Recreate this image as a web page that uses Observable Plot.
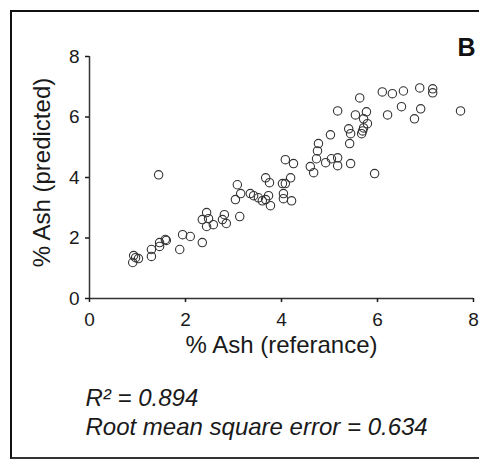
<!DOCTYPE html>
<html>
<head>
<meta charset="utf-8">
<script src="https://cdn.jsdelivr.net/npm/d3@7"></script>
<script src="https://cdn.jsdelivr.net/npm/@observablehq/plot@0.6"></script>
<style>
  html, body { margin: 0; padding: 0; background: #fff; overflow: hidden; }
  #wrap { position: relative; width: 479px; height: 461px; }
  #box {
    position: absolute; left: 10px; top: 10px; width: 520px; height: 449px;
    box-sizing: border-box; border: 2.5px solid #111; border-right: none;
    border-bottom-color: #333; pointer-events: none;
  }
</style>
</head>
<body>
<div id="wrap"><div id="box"></div></div>
<script>
// % ash: reference (lab) values and model predictions
const reference = [
  1.44, 0.92, 0.96, 1.02, 0.90, 1.29, 1.29, 1.46, 1.46, 1.58,
  1.60, 1.88, 1.94, 2.10, 2.35, 2.35, 2.44, 2.48, 2.44, 2.58,
  2.81, 2.77, 2.85, 3.13, 3.08, 3.15, 3.04, 3.35, 3.42, 3.52,
  3.60, 3.67, 3.73, 3.77, 3.67, 3.75, 4.02, 4.08, 4.19, 4.04,
  4.04, 4.21, 4.67, 4.60, 4.73, 4.75, 4.77, 5.02, 5.17, 4.92,
  5.04, 5.17, 5.17, 4.08, 4.25, 5.94, 5.63, 6.10, 6.31, 6.54,
  6.88, 7.15, 7.15, 7.73, 6.50, 6.90, 6.77, 6.21, 5.54, 5.77,
  5.71, 5.79, 5.71, 5.69, 5.67, 5.40, 5.44, 5.42, 5.44
];
const predicted = [
  4.09, 1.42, 1.35, 1.32, 1.19, 1.62, 1.39, 1.85, 1.72, 1.95,
  1.92, 1.62, 2.11, 2.05, 1.85, 2.61, 2.84, 2.64, 2.38, 2.44,
  2.77, 2.61, 2.48, 2.71, 3.76, 3.47, 3.27, 3.47, 3.40, 3.33,
  3.23, 3.27, 3.40, 3.07, 3.99, 3.83, 3.80, 3.80, 3.99, 3.47,
  3.30, 3.23, 4.16, 4.36, 4.62, 4.88, 5.12, 5.41, 6.20, 4.49,
  4.62, 4.65, 4.39, 4.59, 4.46, 4.13, 6.63, 6.83, 6.77, 6.86,
  6.96, 6.93, 6.80, 6.20, 6.34, 6.27, 5.94, 6.07, 6.07, 6.17,
  5.94, 5.78, 5.64, 5.54, 5.45, 5.61, 5.45, 5.12, 4.46
];
const ticks = [0, 2, 4, 6, 8];
const xTitle = "% Ash (referance)";
const yTitle = "% Ash (predicted)";
const panel = "B";
const rSquared = "R\u00b2 = 0.894";
const rmse = "Root mean square error = 0.634";

const points = reference.map((x, i) => ({x, y: predicted[i]}));
const ink = "#333";
const txt = {fill: "#1a1a1a", lineAnchor: "middle"};

const chart = Plot.plot({
  width: 479,
  height: 461,
  marginLeft: 89,
  marginRight: 6,
  marginTop: 56,
  marginBottom: 163,
  style: {fontFamily: "'Liberation Sans', Arial, sans-serif", background: "transparent", overflow: "visible"},
  x: {domain: [0, 8]},
  y: {domain: [0, 8]},
  marks: [
    Plot.ruleX([0], {y1: 0, y2: 8, stroke: ink, strokeWidth: 1.5}),
    Plot.ruleY([0], {x1: 0, x2: 8, stroke: ink, strokeWidth: 1.5}),
    Plot.axisX(ticks, {tickSize: 4, tickPadding: 10, fontSize: 19, label: null, color: "#1a1a1a", strokeWidth: 1.5}),
    Plot.axisY(ticks, {tickSize: 4, tickPadding: 6, fontSize: 19, label: null, color: "#1a1a1a", strokeWidth: 1.5}),
    Plot.dot(points, {x: "x", y: "y", r: 4.2, stroke: ink, strokeWidth: 1.1, fill: "none"}),
    Plot.text([xTitle], {...txt, frameAnchor: "bottom", textAnchor: "middle", dy: 47, fontSize: 24}),
    Plot.text([yTitle], {...txt, frameAnchor: "left", textAnchor: "middle", dx: -47, dy: -5, rotate: -90, fontSize: 24}),
    Plot.text([panel], {...txt, fill: "#111", frameAnchor: "top-right", textAnchor: "middle", dx: -7, dy: -9, fontSize: 25, fontWeight: "bold"}),
    Plot.text([rSquared], {...txt, frameAnchor: "bottom-left", textAnchor: "start", dx: -4, dy: 100, fontSize: 24, fontStyle: "italic"}),
    Plot.text([rmse], {...txt, frameAnchor: "bottom-left", textAnchor: "start", dx: -4, dy: 129, fontSize: 24, fontStyle: "italic"})
  ]
});
document.getElementById("wrap").prepend(chart);
</script>
</body>
</html>
